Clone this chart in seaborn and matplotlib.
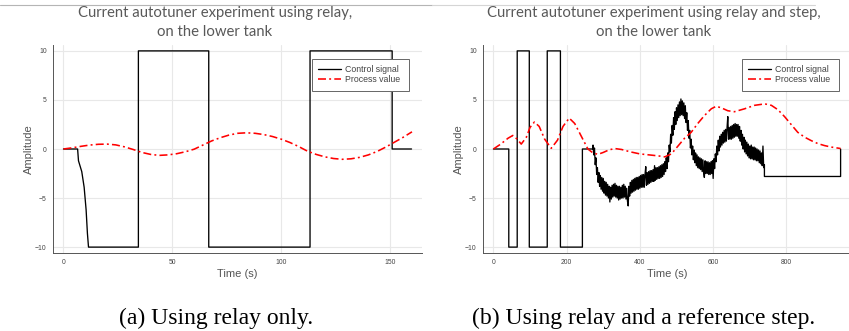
import numpy as np
import pandas as pd
import matplotlib
matplotlib.use("Agg")
import matplotlib.pyplot as plt
import seaborn as sns
from matplotlib.lines import Line2D

# ---------------- data: (a) relay only ----------------
a_ctrl_t = [0, 6.5, 6.9, 8.4, 9.5, 10.4, 11.0, 11.5, 34.4, 34.4, 66.7, 66.7,
            113.2, 113.2, 150.9, 150.9, 159.8]
a_ctrl_u = [0, 0, -1.2, -2.3, -3.9, -6.2, -8.6, -10, -10, 10, 10, -10,
            -10, 10, 10, 0, 0]
a_pv_t = [0, 4, 8, 12, 16, 20, 24, 28, 32, 36, 40, 44, 48, 52, 56, 60, 64, 68,
          72, 76, 80, 84, 88, 92, 96, 100, 104, 108, 112, 116, 120, 124, 128,
          132, 136, 140, 144, 148, 152, 156, 160]
a_pv_y = [0, 0.12, 0.27, 0.4, 0.48, 0.5, 0.42, 0.22, -0.05, -0.35, -0.55,
          -0.65, -0.6, -0.48, -0.28, -0.02, 0.4, 0.82, 1.15, 1.42, 1.6, 1.65,
          1.6, 1.47, 1.27, 1.0, 0.66, 0.25, -0.22, -0.55, -0.8, -0.97, -1.05,
          -1.0, -0.85, -0.6, -0.25, 0.2, 0.7, 1.2, 1.75]

# ---------------- data: (b) relay and reference step ----------------
b_relay_t = [0, 42, 65, 98, 147, 183, 243, 272]
b_relay_u = [0, -10, 10, -10, 10, -10, 0]
b_noise_t = list(range(272, 741, 2))
b_noise_u = [
    0.4, -0.6, 0.1, -1.6, -0.9, -2.6, -1.9, -3.4, -2.4, -3.8,
    -2.7, -4.1, -2.9, -4.3, -3.0, -4.5, -3.3, -4.7, -3.4, -4.8,
    -3.6, -5.0, -3.8, -5.4, -3.9, -5.1, -3.7, -4.9, -3.6, -4.8,
    -3.5, -4.9, -3.7, -5.0, -3.8, -5.2, -3.8, -5.1, -3.9, -5.0,
    -3.7, -5.0, -3.6, -4.9, -3.8, -5.1, -4.0, -5.3, -5.8, -3.8,
    -4.8, -3.4, -4.5, -3.2, -4.4, -3.1, -4.3, -3.0, -4.2, -2.9,
    -4.1, -2.9, -4.1, -2.8, -4.0, -2.7, -3.9, -2.6, -3.9, -2.6,
    -3.9, -2.6, -1.8, -3.7, -2.4, -3.6, -2.3, -3.5, -2.2, -3.4,
    -2.2, -3.3, -2.1, -3.3, -1.7, -3.2, -1.9, -3.1, -1.9, -3.0,
    -1.8, -3.0, -1.7, -2.9, -1.6, -2.8, -1.5, -2.6, -1.3, -2.3,
    -0.9, -2.0, -0.4, -1.3, 0.4, -0.3, 1.5, 0.6, 2.4, 1.4,
    3.2, 2.0, 3.8, 2.5, 4.2, 2.9, 4.5, 3.2, 4.8, 3.4,
    5.1, 3.5, 4.9, 3.4, 4.7, 3.1, 4.4, 2.7, 3.7, 1.9,
    2.9, 1.1, 1.9, 0.1, 1.0, -0.6, 0.3, -1.1, -0.1, -1.4,
    -0.4, -1.7, -0.6, -1.9, -0.8, -2.0, -0.9, -2.1, -1.0, -2.3,
    -1.1, -2.4, -2.9, -1.2, -2.5, -1.3, -2.5, -1.3, -2.6, -1.4,
    -2.6, -1.3, -2.5, -1.2, -3.0, -1.0, -2.0, -0.5, -1.3, 0.3,
    -0.6, 0.9, -0.2, 1.3, 0.2, 1.5, 0.4, 1.7, 0.6, 1.9,
    0.7, 2.0, 0.8, 2.2, 3.3, 1.0, 2.2, 1.0, 2.3, 1.0,
    2.4, 1.1, 2.5, 1.2, 2.6, 1.3, 2.5, 1.3, 2.5, 1.1,
    2.3, 0.8, 1.9, 0.4, 1.5, 0.0, 1.2, -0.3, 0.9, -0.5,
    0.7, -0.7, 0.5, -0.9, 0.3, -1.0, 0.4, -1.0, 0.2, -1.1,
    0.2, -1.1, 0.1, -1.2, 0.0, -1.2, -0.1, -1.4, -0.2, -1.5,
    -0.4, -1.7, 0.3, -1.9, -1.6,
]
b_tail_t = [740, 948, 948]
b_tail_u = [-2.8, -2.8, 0]
b_pv_t = [0, 20, 40, 53, 65, 76, 90, 100, 112, 125, 140, 158, 175, 190, 207,
          222, 240, 258, 270, 285, 300, 315, 331, 350, 375, 400, 425, 450, 468,
          486, 504, 522, 540, 558, 576, 595, 608, 622, 640, 658, 686, 713, 741,
          759, 777, 795, 813, 831, 850, 868, 886, 904, 922, 948]
b_pv_y = [0, 0.5, 1.1, 1.38, 1.0, 0.5, 1.2, 2.2, 2.75, 2.3, 1.0, 0.07, 0.9,
          2.3, 3.15, 2.6, 1.3, 0.0, -0.35, -0.55, -0.35, -0.1, 0.05, -0.05,
          -0.3, -0.5, -0.6, -0.7, -0.8, -0.5, 0.3, 1.1, 1.7, 2.6, 3.4, 4.1,
          4.35, 4.2, 3.9, 3.8, 4.1, 4.45, 4.6, 4.45, 4.0, 3.3, 2.5, 1.7, 1.2,
          0.85, 0.55, 0.35, 0.2, 0.05]

titles = ["Current autotuner experiment using relay,\non the lower tank",
          "Current autotuner experiment using relay and step,\non the lower tank"]
captions = ["(a) Using relay only.", "(b) Using relay and a reference step."]
ctrl_label, pv_label = "Control signal", "Process value"
xlabel, ylabel = "Time (s)", "Amplitude"
a_xticks = [0, 50, 100, 150]
b_xticks = [0, 200, 400, 600, 800]
yticks = [-10, -5, 0, 5, 10]


def expand_steps(t, u):
    xs, ys = [], []
    for i, v in enumerate(u):
        xs += [t[i], t[i + 1]]
        ys += [v, v]
    return xs, ys


rx, ry = expand_steps(b_relay_t, b_relay_u)
b_ctrl_t = rx + b_noise_t + b_tail_t
b_ctrl_u = ry + b_noise_u + b_tail_u

sns.set_theme(style="white")
plt.rcParams['font.family'] = ['Liberation Sans', 'DejaVu Sans']

W, H = 849, 331
fig = plt.figure(figsize=(W / 100, H / 100), dpi=100)

axA = fig.add_axes([53 / W, 1 - 253 / H, 369 / W, 208 / H])
axB = fig.add_axes([483 / W, 1 - 253 / H, 368 / W, 208 / H])

panels = [
    (axA, a_ctrl_t, a_ctrl_u, a_pv_t, a_pv_y, (-4.8, 164.6), a_xticks, 369),
    (axB, b_ctrl_t, b_ctrl_u, b_pv_t, b_pv_y, (-28.4, 976.4), b_xticks, 368),
]

for ax, ct, cu, pt, py, xl, xt, aw in panels:
    sns.lineplot(x=ct, y=cu, ax=ax, sort=False, estimator=None,
                 color="black", linewidth=0.95, label=ctrl_label)
    sns.lineplot(x=pt, y=py, ax=ax, sort=False, estimator=None,
                 color="#ff0000", linewidth=1.15, label=pv_label)
    ax.lines[-1].set_dashes([5, 2, 1.2, 2])
    ax.set_xlim(*xl)
    ax.set_ylim(-10.6, 10.6)
    ax.set_xticks(xt)
    ax.set_yticks(yticks)
    ax.grid(True, color="#e8e8e8", linewidth=0.8)
    ax.set_axisbelow(True)
    for s in ["top", "right"]:
        ax.spines[s].set_visible(False)
    for s in ["left", "bottom"]:
        ax.spines[s].set_color("#555555")
        ax.spines[s].set_linewidth(0.7)
    ax.tick_params(axis="both", labelsize=4.9, colors="#555555",
                   labelcolor="#444444", length=2.2, width=0.5,
                   direction="in", pad=4.5)
    ax.set_xlabel(xlabel, fontsize=8, color="#555555", labelpad=2)
    ax.set_ylabel(ylabel, fontsize=8, color="#555555", labelpad=1)
    # legend box: pixels 259..356 from axes left, 14..46 from axes top
    x0 = 259 / aw
    leg = ax.legend(loc="upper left",
                    bbox_to_anchor=(x0, 1 - 46 / 208, 97 / aw, 32 / 208),
                    mode="expand", borderaxespad=0, fontsize=6.3,
                    frameon=True, fancybox=False, framealpha=1,
                    edgecolor="#666666", handlelength=2.6,
                    handletextpad=0.45, labelspacing=0.15, borderpad=0.7)
    leg.get_frame().set_linewidth(0.7)
    for txt in leg.get_texts():
        txt.set_color("#444444")

title_kw = dict(ha="center", va="center", fontsize=10.7, color="#595959",
                family=["Lato", "DejaVu Sans"], linespacing=1.45)
fig.text(215 / W, 1 - 22.5 / H, titles[0], **title_kw)
fig.text(654 / W, 1 - 22.5 / H, titles[1], **title_kw)

cap_kw = dict(ha="center", va="center", fontsize=17, color="black",
              family=["Liberation Serif"])
fig.text(216 / W, 1 - 318 / H, captions[0], **cap_kw)
fig.text(644 / W, 1 - 318 / H, captions[1], **cap_kw)

fig.add_artist(Line2D([0, 432 / W], [1 - 5 / H, 1 - 5 / H], color="#b5b5b5",
                      linewidth=0.8, transform=fig.transFigure))
fig.add_artist(Line2D([432 / W, 815 / W], [1 - 5 / H, 1 - 5 / H],
                      color="#d5d5d5", linewidth=0.8,
                      transform=fig.transFigure))

fig.savefig("out.png", dpi=100)
